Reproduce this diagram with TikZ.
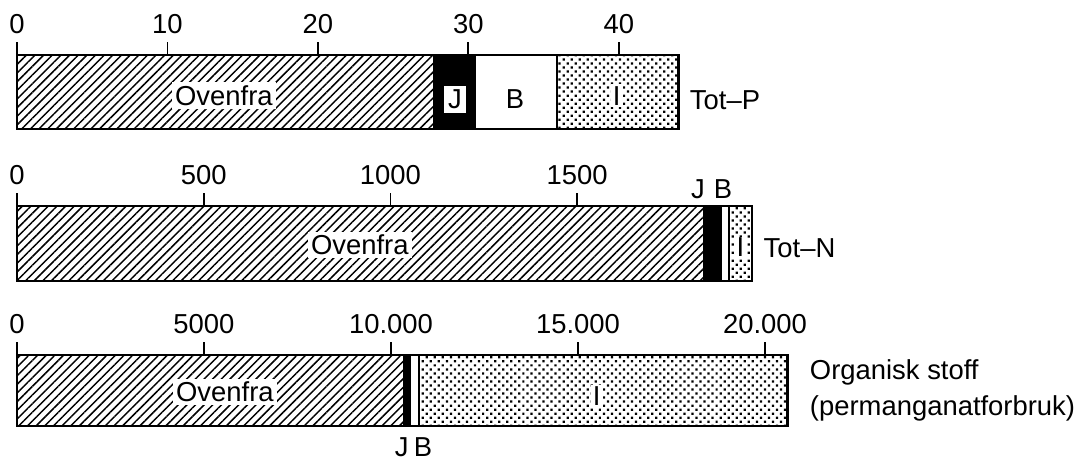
\documentclass[tikz,border=0pt]{standalone}
\usepackage{fontspec}
\setmainfont{Liberation Sans}
\usetikzlibrary{patterns.meta}

\begin{document}
\begin{tikzpicture}
  [every node/.style={font=\fontsize{13pt}{17pt}\selectfont},
   barline/.style={line width=1.2pt},
   tickline/.style={line width=0.9pt},
   hatch/.style={pattern={Lines[angle=45,distance=2.9pt,line width=0.7pt]}},
   dotfill/.style={pattern={Dots[angle=45,distance=2.7pt,radius=0.75pt]}},
   knock/.style={fill=white,inner sep=1.5pt}]
  \useasboundingbox (0,0) rectangle (18,7.7);

  % Tot-P
  \begin{scope}[shift={(0.283,5.55)},x=0.2508cm,y=1.233cm]
    \fill[hatch] (0,0) rectangle (27.65,1);
    \fill[black] (27.65,0) rectangle (30.45,1);
    \fill[dotfill] (35.9,0) rectangle (43.95,1);
    \draw[barline] (0,0) rectangle (43.95,1);
    \draw[barline] (30.45,0) -- (30.45,1) (35.9,0) -- (35.9,1);
    \foreach \v in {0,10,20,30,40}
      \draw[tickline] (\v,1) -- ++(0,0.22cm) node[above] (p\v) {\v};
    \node[knock] (ovP) at (13.75,0.45) {Ovenfra};
    \node[knock,inner sep=2pt] (jP) at (29.1,0.4) {J};
    \node (bP) at (33.1,0.4) {B};
    \node[knock,inner sep=1pt] (iP) at (39.85,0.45) {I};
    \node[right=2pt] (totP) at (43.95,0.39) {Tot--P};
  \end{scope}

  % Tot-N
  \begin{scope}[shift={(0.283,3.017)},x=0.6225cm,y=1.25cm]
    \fill[hatch] (0,0) rectangle (18.37,1);
    \fill[black] (18.37,0) rectangle (18.88,1);
    \fill[dotfill] (19.06,0) rectangle (19.68,1);
    \draw[barline] (0,0) rectangle (19.68,1);
    \draw[tickline] (19.06,0) -- (19.06,1);
    \foreach \v/\t in {0/0,5/500,10/1000,15/1500}
      \draw[tickline] (\v,1) -- ++(0,0.22cm) node[above] (n\v) {\t};
    \node[above] (jN) at (18.23,1) {J};
    \node[above] (bN) at (18.9,1) {B};
    \node[knock] (ovN) at (9.18,0.48) {Ovenfra};
    \node[knock,inner sep=0.6pt] (iN) at (19.37,0.45) {I};
    \node[right=2pt] (totN) at (19.68,0.44) {Tot--N};
  \end{scope}

  % Organisk stoff
  \begin{scope}[shift={(0.283,0.6)},x=0.6233cm,y=1.183cm]
    \fill[hatch] (0,0) rectangle (10.32,1);
    \fill[black] (10.32,0) rectangle (10.53,1);
    \fill[dotfill] (10.75,0) rectangle (20.61,1);
    \draw[barline] (0,0) rectangle (20.61,1);
    \draw[barline] (10.75,0) -- (10.75,1);
    \foreach \v/\t in {0/0,5/5000,10/10.000,15/15.000,20/20.000}
      \draw[tickline] (\v,1) -- ++(0,0.22cm) node[above] (o\v) {\t};
    \node[below=4.5pt,inner sep=1pt] (jO) at (10.29,0) {J};
    \node[below=4.5pt,inner sep=1pt] (bO) at (10.86,0) {B};
    \node[knock] (ovO) at (5.56,0.48) {Ovenfra};
    \node[knock,inner sep=1pt] (iO) at (15.5,0.42) {I};
    \node[right=7pt,align=left] (orgO) at (20.61,0.5) {Organisk stoff\\(permanganatforbruk)};
  \end{scope}
\end{tikzpicture}
\end{document}
